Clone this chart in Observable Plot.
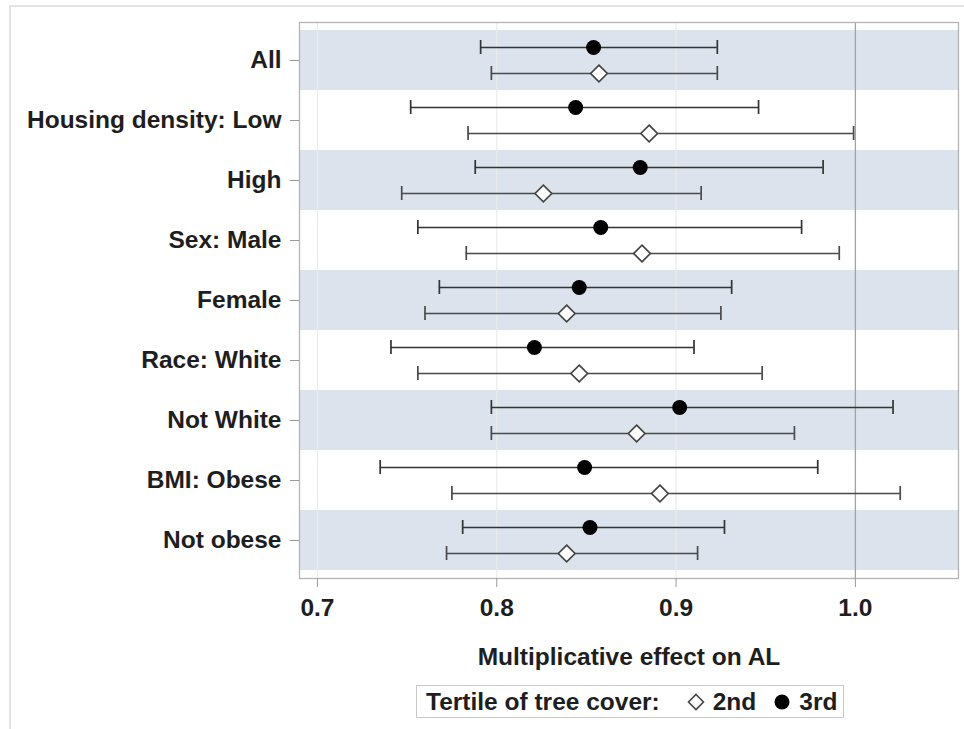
<!DOCTYPE html>
<html>
<head>
<meta charset="utf-8">
<script src="https://cdn.jsdelivr.net/npm/d3@7"></script>
<script src="https://cdn.jsdelivr.net/npm/@observablehq/plot@0.6"></script>
<style>
  html, body { margin: 0; padding: 0; background: #fff; }
  #wrap { position: relative; width: 964px; height: 729px; overflow: hidden; font-family: "Liberation Sans", Arial, sans-serif; }
  #outer { position: absolute; left: 9px; top: 5px; width: 1000px; height: 800px; border-left: 2px solid #e2e2e2; border-top: 2px solid #e2e2e2; }
  #legend { position: absolute; left: 416px; top: 685px; height: 31px; border: 1px solid #c8c8c8; display: flex; align-items: center; padding: 0 6px 0 9px; font-size: 24.5px; font-weight: bold; color: #1e1e1e; white-space: nowrap; background: #fff; }
  #legend svg { margin: 0 8px 0 0; }
</style>
</head>
<body>
<div id="wrap"><div id="outer"></div><div id="chart"></div>
<div id="legend"><span>Tertile of tree cover:</span><span style="display:inline-block;width:27px"></span><svg width="18" height="18" viewBox="-9 -9 18 18"><path d="M0,-7.5L7.5,0L0,7.5L-7.5,0Z" fill="#fff" stroke="#444" stroke-width="1.6"/></svg><span>2nd</span><span style="display:inline-block;width:17px"></span><svg width="18" height="18" viewBox="-9 -9 18 18"><circle r="7.5" fill="#000"/></svg><span>3rd</span></div>
</div>
<script>
const labels = ["All", "Housing density: Low", "High", "Sex: Male", "Female", "Race: White", "Not White", "BMI: Obese", "Not obese"];
const thirdEst = [0.854, 0.844, 0.880, 0.858, 0.846, 0.821, 0.902, 0.849, 0.852];
const thirdLo  = [0.791, 0.752, 0.788, 0.756, 0.768, 0.741, 0.797, 0.735, 0.781];
const thirdHi  = [0.923, 0.946, 0.982, 0.970, 0.931, 0.910, 1.021, 0.979, 0.927];
const secondEst = [0.857, 0.885, 0.826, 0.881, 0.839, 0.846, 0.878, 0.891, 0.839];
const secondLo  = [0.797, 0.784, 0.747, 0.783, 0.760, 0.756, 0.797, 0.775, 0.772];
const secondHi  = [0.923, 0.999, 0.914, 0.991, 0.925, 0.948, 0.966, 1.025, 0.912];
const xTicks = [0.7, 0.8, 0.9, 1.0];
const xDomain = [0.69, 1.0575];
const refValue = 1.0;
const xLabel = "Multiplicative effect on AL";

const third = labels.map((l, i) => ({label: l, est: thirdEst[i], lo: thirdLo[i], hi: thirdHi[i]}));
const second = labels.map((l, i) => ({label: l, est: secondEst[i], lo: secondLo[i], hi: secondHi[i]}));
const bands = labels.filter((l, i) => i % 2 === 0).map(l => ({label: l, x1: xDomain[0], x2: xDomain[1]}));

const chart = Plot.plot({
  width: 964,
  height: 729,
  marginLeft: 299,
  marginRight: 6,
  marginTop: 22,
  marginBottom: 151,
  style: {fontFamily: "Liberation Sans, Arial, sans-serif", fontSize: "24.5px", fontWeight: "bold", color: "#1e1e1e", background: "transparent", overflow: "visible"},
  x: {domain: xDomain, ticks: xTicks},
  y: {type: "band", domain: labels, padding: 0, insetTop: 8, insetBottom: 8},
  marks: [
    Plot.barX(bands, {y: "label", x1: "x1", x2: "x2", fill: "#dde3ed"}),
    Plot.gridX(xTicks.filter(t => t !== refValue), {stroke: "#ebebeb", strokeOpacity: 1, strokeWidth: 1.2}),
    Plot.ruleX([refValue], {stroke: "#a3a3a3", strokeWidth: 1.3}),
    Plot.frame({stroke: "#b4b4b4", strokeWidth: 1.3}),
    Plot.axisY({tickSize: 9, tickPadding: 9, stroke: "#9a9a9a", fill: "#1e1e1e", label: null}),
    Plot.axisX({ticks: xTicks, tickFormat: d3.format(".1f"), tickSize: 9, tickPadding: 11, stroke: "#9a9a9a", fill: "#1e1e1e", label: null}),
    Plot.text([xLabel], {frameAnchor: "bottom", dy: 79, fill: "#1e1e1e", lineAnchor: "middle"}),
    // 2nd tertile (diamond), below center
    Plot.ruleY(second, {y: "label", x1: "lo", x2: "hi", dy: 13, stroke: "#4a4a4a", strokeWidth: 1.7}),
    Plot.tickX(second, {y: "label", x: "lo", insetTop: 36, insetBottom: 10, stroke: "#4a4a4a", strokeWidth: 1.7}),
    Plot.tickX(second, {y: "label", x: "hi", insetTop: 36, insetBottom: 10, stroke: "#4a4a4a", strokeWidth: 1.7}),
    Plot.dot(second, {y: "label", x: "est", dy: 13, symbol: "diamond2", r: 7.5, fill: "#fff", stroke: "#444", strokeWidth: 1.7}),
    // 3rd tertile (filled circle), above center
    Plot.ruleY(third, {y: "label", x1: "lo", x2: "hi", dy: -13, stroke: "#333", strokeWidth: 1.7}),
    Plot.tickX(third, {y: "label", x: "lo", insetTop: 10, insetBottom: 36, stroke: "#333", strokeWidth: 1.7}),
    Plot.tickX(third, {y: "label", x: "hi", insetTop: 10, insetBottom: 36, stroke: "#333", strokeWidth: 1.7}),
    Plot.dot(third, {y: "label", x: "est", dy: -13, r: 7.5, fill: "#000", stroke: "none"})
  ]
});
document.getElementById("chart").appendChild(chart);
</script>
</body>
</html>
